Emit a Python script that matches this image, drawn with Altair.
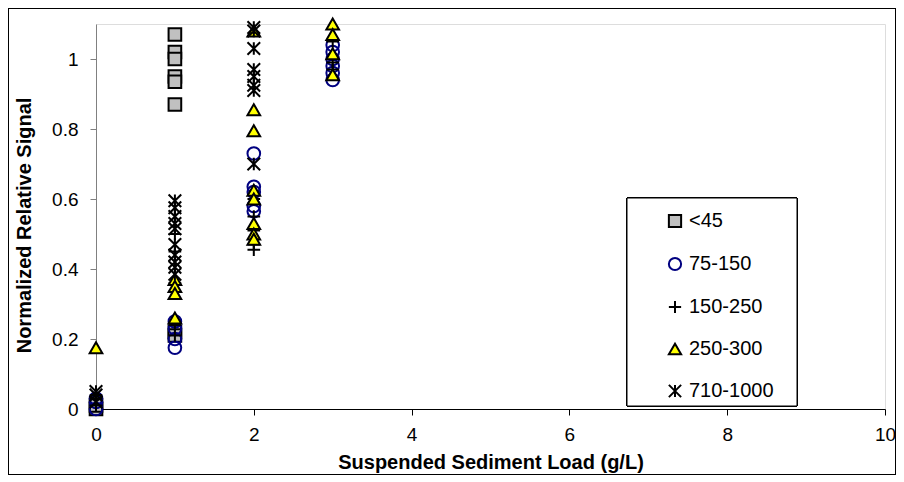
import altair as alt
import pandas as pd

series = ["<45", "75-150", "150-250", "250-300", "710-1000"]

# <45
x_lt45 = [0, 0, 1, 1, 1, 1, 1, 1, 1, 1]
y_lt45 = [0.0, 0.01, 1.07, 1.02, 1.0, 0.95, 0.935, 0.87, 0.22, 0.21]
# 75-150
x_75 = [0, 0, 0, 1, 1, 1, 1, 2, 2, 2, 2, 2, 3, 3, 3, 3, 3, 3]
y_75 = [0.0, 0.02, 0.03, 0.25, 0.23, 0.2, 0.175, 0.73, 0.635, 0.62, 0.58, 0.565,
        1.04, 1.02, 1.0, 0.98, 0.96, 0.94]
# 150-250
x_150 = [0, 0, 0, 1, 1, 1, 1, 1, 2, 2, 2, 2, 2, 3, 3, 3]
y_150 = [0.01, 0.03, 0.04, 0.5, 0.45, 0.36, 0.24, 0.21, 0.6, 0.55, 0.51, 0.47, 0.455,
         1.05, 0.99, 0.97]
# 250-300
x_250 = [0, 1, 1, 1, 1, 2, 2, 2, 2, 2, 2, 2, 2, 3, 3, 3, 3]
y_250 = [0.175, 0.37, 0.35, 0.33, 0.26, 1.08, 0.855, 0.795, 0.625, 0.6, 0.53, 0.5, 0.485,
         1.1, 1.07, 1.015, 0.955]
# 710-1000
x_710 = [0, 0, 0, 1, 1, 1, 1, 1, 1, 1, 1, 1, 1, 2, 2, 2, 2, 2, 2, 2, 2]
y_710 = [0.02, 0.04, 0.05, 0.595, 0.575, 0.55, 0.53, 0.515, 0.47, 0.44, 0.42, 0.405, 0.385,
         1.09, 1.08, 1.03, 0.97, 0.95, 0.925, 0.91, 0.7]

x_ticks = [0, 2, 4, 6, 8, 10]
y_ticks = [0, 0.2, 0.4, 0.6, 0.8, 1]

rows = []
i = 0
for name, xs, ys in zip(series, [x_lt45, x_75, x_150, x_250, x_710],
                        [y_lt45, y_75, y_150, y_250, y_710]):
    for xv, yv in zip(xs, ys):
        rows.append({"series": name, "x": xv, "y": yv, "idx": i})
        i += 1
df = pd.DataFrame(rows)

plus_path = "M-1,0L1,0M0,-1L0,1"
star_path = "M-1,-1L1,1M-1,1L1,-1M0,-1L0,1"

W, H = 789, 385
FONT = "Liberation Sans"

points = alt.Chart(df).mark_point(size=160, strokeWidth=2, opacity=1).encode(
    x=alt.X("x:Q", title="Suspended Sediment Load (g/L)",
            scale=alt.Scale(domain=[0, 10], nice=False, zero=False),
            axis=alt.Axis(values=x_ticks, grid=False, domainColor="#000000",
                          tickColor="#000000", tickSize=6, labelPadding=10,
                          labelFontSize=19, labelFont=FONT, labelColor="#000000",
                          titleFontSize=20, titleFont=FONT, titleFontWeight="bold",
                          titleColor="#000000", titleX=W / 2, titleY=53,
                          titleBaseline="middle", labelFlush=False)),
    y=alt.Y("y:Q", title="Normalized Relative Signal",
            scale=alt.Scale(domain=[0, 1.1], nice=False),
            axis=alt.Axis(values=y_ticks, format="~g", grid=False,
                          domainColor="#808080", tickColor="#808080", tickSize=6,
                          labelPadding=12, labelFontSize=19, labelFont=FONT,
                          labelColor="#000000", titleFontSize=20, titleFont=FONT,
                          titleFontWeight="bold", titleColor="#000000",
                          titleX=-72, titleY=201, titleBaseline="middle",
                          titleAngle=270, labelFlush=False)),
    shape=alt.Shape("series:N",
                    scale=alt.Scale(domain=series,
                                    range=["square", "circle", plus_path,
                                           "triangle-up", star_path]),
                    legend=alt.Legend(title=None, orient="none", legendX=569,
                                      legendY=187, labelFontSize=20, labelFont=FONT,
                                      labelColor="#000000", symbolSize=150,
                                      symbolStrokeWidth=2, rowPadding=21, padding=0,
                                      labelOffset=4)),
    fill=alt.Fill("series:N",
                  scale=alt.Scale(domain=series,
                                  range=["#C0C0C0", "transparent", "transparent",
                                         "#FFFF00", "transparent"])),
    stroke=alt.Stroke("series:N",
                      scale=alt.Scale(domain=series,
                                      range=["#000000", "#000080", "#000000",
                                             "#000000", "#000000"])),
    order=alt.Order("idx:Q"),
)

legend_box = alt.Chart(df).mark_rect(fill="#FFFFFF", stroke="#000000",
                                     strokeWidth=1).encode(
    x=alt.value(531), x2=alt.value(701), y=alt.value(174), y2=alt.value(382)
)

frame = alt.Chart(df).mark_rect(fillOpacity=0, stroke="#000000", strokeWidth=1).encode(
    x=alt.value(-87.5), x2=alt.value(W + 10.5), y=alt.value(-15.5), y2=alt.value(H + 65.5)
)

chart = alt.layer(frame, legend_box, points).properties(
    width=W, height=H,
    autosize=alt.AutoSizeParams(type="none"),
    padding={"left": 88, "right": 11, "top": 16, "bottom": 66},
).configure_view(stroke=None).configure(background="#FFFFFF")

chart.save("out.html", embed_options={"renderer": "svg", "actions": False})
